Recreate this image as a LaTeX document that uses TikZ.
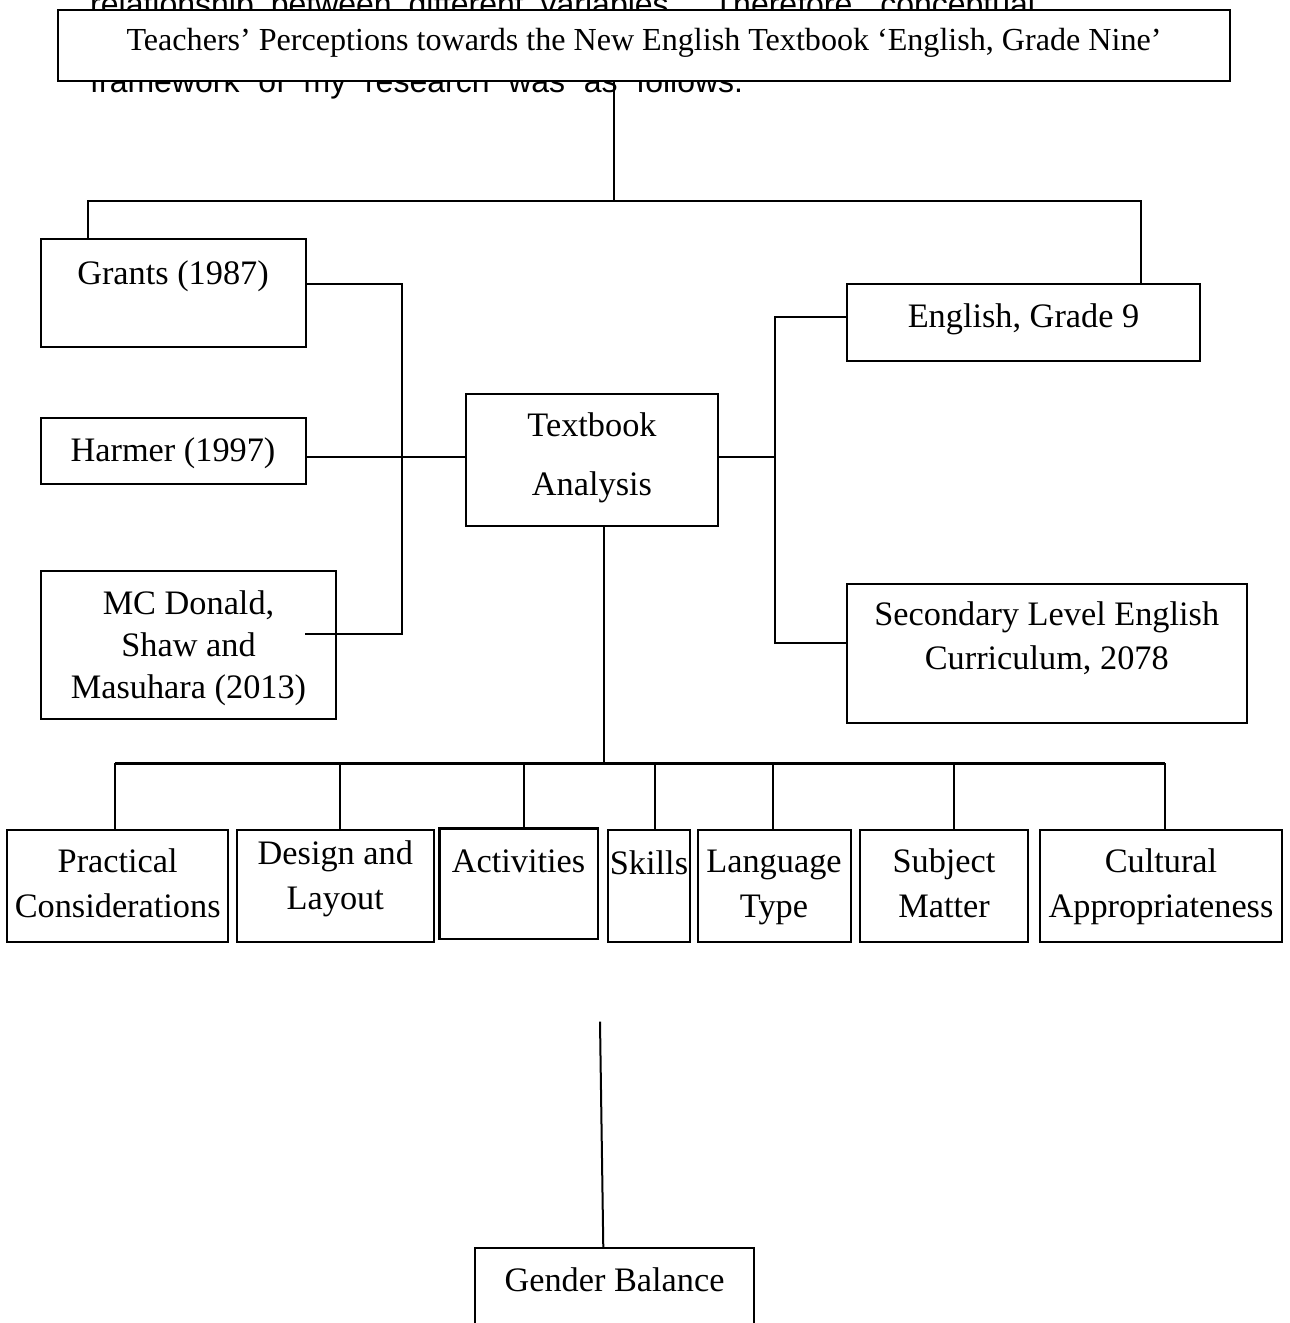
\documentclass[tikz,border=0pt]{standalone}
\usepackage{fontspec}
\setmainfont{Liberation Serif}
\newfontfamily\arialf{Liberation Sans}
\usetikzlibrary{calc}
\tikzset{
  box/.style={draw, line width=2pt, inner sep=0pt, outer sep=0pt},
  txt/.style={anchor=base, inner sep=0pt, font=\fontsize{34.3}{40}\selectfont},
  conn/.style={line width=2pt},
  bus/.style={line width=3pt},
  bg/.style={anchor=base west, inner sep=0pt, font=\arialf\fontsize{32}{38}\selectfont},
}
\newcommand\bx[6][]{\node[box,#1, minimum width={#5-#3}, minimum height={#6-#4}] (#2) at ({(#3+#5)/2},{(#4+#6)/2}) {};}
\begin{document}
\begin{tikzpicture}[x=1pt,y=-1pt]
\useasboundingbox (0,0) rectangle (1290,1323);
\fill[white] (0,0) rectangle (1290,1323);

% partially hidden running text behind the title box
\node[bg] (bg1) at (90,15) {\makebox[945pt][s]{relationship between different variables. Therefore, conceptual}};
\node[bg] (bg2) at (90,92) {\makebox[653pt][s]{framework of my research was as follows.}};

% title
\bx[fill=white]{title}{58}{10}{1230}{81}
\node[txt, font=\fontsize{32.1}{38}\selectfont] (t-title) at (644,50) {Teachers’ Perceptions towards the New English Textbook ‘English, Grade Nine’};

% boxes
\bx{grants}{41}{239.3}{305.5}{346.7}
\node[txt] (t-grants) at (173,284) {Grants (1987)};
\bx{harmer}{41}{418.3}{305.5}{484}
\node[txt] (t-harmer) at (173,461) {Harmer (1997)};
\bx{mcd}{41}{570.7}{336}{719}
\node[txt] (t-mcd1) at (188.5,614) {MC Donald,};
\node[txt] (t-mcd2) at (188.5,656) {Shaw and};
\node[txt] (t-mcd3) at (188.5,698) {Masuhara (2013)};
\bx{textbook}{466}{394}{718}{525.5}
\node[txt] (t-tb1) at (592,436.6) {Textbook};
\node[txt] (t-tb2) at (592,495.8) {Analysis};
\bx{english}{847}{284}{1200}{361}
\node[txt] (t-eng) at (1023.5,327.5) {English, Grade 9};
\bx{secondary}{847}{583.6}{1246.5}{722.7}
\node[txt] (t-sec1) at (1046.75,625) {Secondary Level English};
\node[txt] (t-sec2) at (1046.75,669.7) {Curriculum, 2078};

\bx{practical}{7.4}{830}{228}{941.7}
\node[txt] (t-pr1) at (117.7,872.7) {Practical};
\node[txt] (t-pr2) at (117.7,917.7) {Considerations};
\bx{design}{237}{830}{433.6}{941.7}
\node[txt] (t-de1) at (335.3,864) {Design and};
\node[txt] (t-de2) at (335.3,909) {Layout};
\bx[line width=2.6pt]{activities}{439.3}{828.7}{598}{939}
\node[txt] (t-act) at (518.6,872.7) {Activities};
\bx{skills}{608}{830}{690}{941.7}
\node[txt] (t-sk) at (649,874) {Skills};
\bx{language}{697.6}{830}{850.7}{941.7}
\node[txt] (t-la1) at (774,872.7) {Language};
\node[txt] (t-la2) at (774,917.7) {Type};
\bx{subject}{859.7}{830}{1028.4}{941.7}
\node[txt] (t-su1) at (944,872.7) {Subject};
\node[txt] (t-su2) at (944,917.7) {Matter};
\bx{cultural}{1040}{830}{1281.8}{941.7}
\node[txt] (t-cu1) at (1161,872.7) {Cultural};
\node[txt] (t-cu2) at (1161,917.7) {Appropriateness};

\bx{gender}{475}{1247.7}{754.3}{1360}
\node[txt] (t-gen) at (614.5,1291) {Gender Balance};

% coordinates
\coordinate (j0) at (614,200.5);
\coordinate (jL) at (88,200.5);
\coordinate (jR) at (1141,200.5);
\coordinate (gy) at (0,284.3);
\coordinate (ty) at (0,456.7);
\coordinate (hL) at (402,0);
\coordinate (mcs) at (305,634);
\coordinate (hR) at (775,0);
\coordinate (ey) at (0,316.5);
\coordinate (sy) at (0,643);
\coordinate (bus) at (604.4,763.3);
\coordinate (bw) at (115,763.3);
\coordinate (be) at (1165,763.3);
\coordinate (d2) at (340,763.3);
\coordinate (d3) at (524,763.3);
\coordinate (d4) at (655,763.3);
\coordinate (d5) at (773,763.3);
\coordinate (d6) at (953.5,763.3);
\coordinate (gtop) at (600,1021.7);
\coordinate (gx) at (603.3,0);

% connectors
\draw[conn] (title.south -| j0) -- (j0);
\draw[conn] (grants.north -| jL) -- (jL) -- (jR) -- (english.north -| jR);
\draw[conn] (grants.east |- gy) -| (mcs -| hL) -- (mcs);
\draw[conn] (harmer.east |- ty) -- (textbook.west |- ty);
\draw[conn] (english.west |- ey) -| (sy -| hR) -- (secondary.west |- sy);
\draw[conn] (textbook.east |- ty) -- (ty -| hR);
\draw[conn] (textbook.south -| bus) -- (bus);
\draw[bus] (bw) -- (be);
\draw[conn] (bw) -- (practical.north -| bw);
\draw[conn] (d2) -- (design.north -| d2);
\draw[conn] (d3) -- (activities.north -| d3);
\draw[conn] (d4) -- (skills.north -| d4);
\draw[conn] (d5) -- (language.north -| d5);
\draw[conn] (d6) -- (subject.north -| d6);
\draw[conn] (be) -- (cultural.north -| be);
\draw[conn] (gtop) -- (gender.north -| gx);
\end{tikzpicture}
\end{document}
